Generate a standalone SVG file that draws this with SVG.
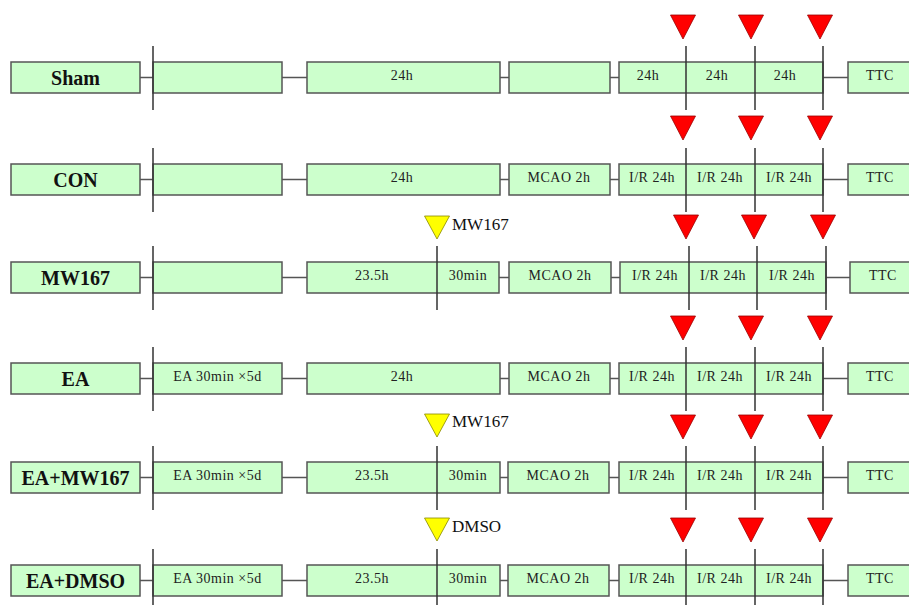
<svg xmlns="http://www.w3.org/2000/svg" width="909" height="605" viewBox="0 0 909 605">
<defs>
<style>
.bx{fill:#ccffcc;stroke:#555;stroke-width:1.5}
.ln{stroke:#333;stroke-width:1.5;fill:none}
.cn{stroke:#555;stroke-width:1.5;fill:none}
.lb{font-family:"Liberation Serif",serif;font-weight:bold;font-size:20px;fill:#111;text-anchor:middle}
.t{font-family:"Liberation Serif",serif;font-size:14px;fill:#222;text-anchor:middle;letter-spacing:0.5px}
.yt{font-family:"Liberation Serif",serif;font-size:17px;fill:#111}
.rd{fill:#ff0000;stroke:#990000;stroke-width:0.8}
.yw{fill:#ffff00;stroke:#888800;stroke-width:0.8}
</style>
<polygon id="rt" points="-12.5,0 12.5,0 0,24" class="rd"/>
<polygon id="yt" points="-12.5,0 12.5,0 0,23" class="yw"/>
</defs>
<rect width="909" height="605" fill="#ffffff"/>

<!-- Row 1: Sham -->
<g id="sham-label"><rect class="bx" x="11" y="62" width="129" height="31"/><text class="lb" x="75.5" y="85">Sham</text></g>
<g id="sham-b2"><rect class="bx" x="153" y="62" width="129" height="31"/></g>
<g id="sham-b3"><rect class="bx" x="307" y="62" width="193" height="31"/><text class="t" x="402" y="80">24h</text></g>
<g id="sham-b4"><rect class="bx" x="509" y="62" width="101" height="31"/></g>
<g id="sham-b5"><rect class="bx" x="619" y="62" width="204" height="31"/><text class="t" x="648" y="80">24h</text><text class="t" x="717" y="80">24h</text><text class="t" x="785" y="80">24h</text></g>
<g id="sham-ttc"><rect class="bx" x="848" y="62" width="70" height="31"/><text class="t" x="880" y="80">TTC</text></g>
<g id="sham-marks"><use href="#rt" x="683" y="15"/><use href="#rt" x="751" y="15"/><use href="#rt" x="820" y="15"/></g>

<!-- Row 2: CON -->
<g id="con-label"><rect class="bx" x="11" y="164" width="129" height="31"/><text class="lb" x="75.5" y="187">CON</text></g>
<g id="con-b2"><rect class="bx" x="153" y="164" width="129" height="31"/></g>
<g id="con-b3"><rect class="bx" x="307" y="164" width="193" height="31"/><text class="t" x="402" y="182">24h</text></g>
<g id="con-b4"><rect class="bx" x="509" y="164" width="101" height="31"/><text class="t" x="559" y="182">MCAO 2h</text></g>
<g id="con-b5"><rect class="bx" x="619" y="164" width="204" height="31"/><text class="t" x="652" y="182">I/R 24h</text><text class="t" x="720" y="182">I/R 24h</text><text class="t" x="789" y="182">I/R 24h</text></g>
<g id="con-ttc"><rect class="bx" x="848" y="164" width="70" height="31"/><text class="t" x="880" y="182">TTC</text></g>
<g id="con-marks"><use href="#rt" x="683" y="116"/><use href="#rt" x="751" y="116"/><use href="#rt" x="820" y="116"/></g>

<!-- Row 3: MW167 -->
<g id="mw-label"><rect class="bx" x="11" y="262" width="129" height="31"/><text class="lb" x="75.5" y="285">MW167</text></g>
<g id="mw-b2"><rect class="bx" x="153" y="262" width="129" height="31"/></g>
<g id="mw-b3"><rect class="bx" x="307" y="262" width="192" height="31"/><text class="t" x="372" y="280">23.5h</text><text class="t" x="468" y="280">30min</text></g>
<g id="mw-b4"><rect class="bx" x="509" y="262" width="102" height="31"/><text class="t" x="560" y="280">MCAO 2h</text></g>
<g id="mw-b5"><rect class="bx" x="620" y="262" width="206" height="31"/><text class="t" x="655" y="280">I/R 24h</text><text class="t" x="723" y="280">I/R 24h</text><text class="t" x="792" y="280">I/R 24h</text></g>
<g id="mw-ttc"><rect class="bx" x="850" y="262" width="70" height="31"/><text class="t" x="883" y="280">TTC</text></g>
<g id="mw-marks"><use href="#rt" x="686" y="215"/><use href="#rt" x="754" y="215"/><use href="#rt" x="823" y="215"/></g>
<g id="mw-inj"><use href="#yt" x="437" y="216"/><text class="yt" x="452" y="230">MW167</text></g>

<!-- Row 4: EA -->
<g id="ea-label"><rect class="bx" x="11" y="363" width="129" height="31"/><text class="lb" x="75.5" y="386">EA</text></g>
<g id="ea-b2"><rect class="bx" x="153" y="363" width="129" height="31"/><text class="t" x="217.5" y="381">EA 30min ×5d</text></g>
<g id="ea-b3"><rect class="bx" x="307" y="363" width="193" height="31"/><text class="t" x="402" y="381">24h</text></g>
<g id="ea-b4"><rect class="bx" x="509" y="363" width="101" height="31"/><text class="t" x="559" y="381">MCAO 2h</text></g>
<g id="ea-b5"><rect class="bx" x="619" y="363" width="204" height="31"/><text class="t" x="652" y="381">I/R 24h</text><text class="t" x="720" y="381">I/R 24h</text><text class="t" x="789" y="381">I/R 24h</text></g>
<g id="ea-ttc"><rect class="bx" x="848" y="363" width="70" height="31"/><text class="t" x="880" y="381">TTC</text></g>
<g id="ea-marks"><use href="#rt" x="683" y="316"/><use href="#rt" x="751" y="316"/><use href="#rt" x="820" y="316"/></g>

<!-- Row 5: EA+MW167 -->
<g id="eamw-label"><rect class="bx" x="11" y="462" width="129" height="31"/><text class="lb" x="75.5" y="485">EA+MW167</text></g>
<g id="eamw-b2"><rect class="bx" x="153" y="462" width="129" height="31"/><text class="t" x="217.5" y="480">EA 30min ×5d</text></g>
<g id="eamw-b3"><rect class="bx" x="307" y="462" width="193" height="31"/><text class="t" x="372" y="480">23.5h</text><text class="t" x="468" y="480">30min</text></g>
<g id="eamw-b4"><rect class="bx" x="508" y="462" width="101" height="31"/><text class="t" x="558" y="480">MCAO 2h</text></g>
<g id="eamw-b5"><rect class="bx" x="619" y="462" width="204" height="31"/><text class="t" x="652" y="480">I/R 24h</text><text class="t" x="720" y="480">I/R 24h</text><text class="t" x="789" y="480">I/R 24h</text></g>
<g id="eamw-ttc"><rect class="bx" x="848" y="462" width="70" height="31"/><text class="t" x="880" y="480">TTC</text></g>
<g id="eamw-marks"><use href="#rt" x="683" y="415"/><use href="#rt" x="751" y="415"/><use href="#rt" x="820" y="415"/></g>
<g id="eamw-inj"><use href="#yt" x="437" y="414"/><text class="yt" x="452" y="427">MW167</text></g>

<!-- Row 6: EA+DMSO -->
<g id="eadm-label"><rect class="bx" x="11" y="565" width="129" height="31"/><text class="lb" x="75.5" y="588">EA+DMSO</text></g>
<g id="eadm-b2"><rect class="bx" x="153" y="565" width="129" height="31"/><text class="t" x="217.5" y="583">EA 30min ×5d</text></g>
<g id="eadm-b3"><rect class="bx" x="307" y="565" width="193" height="31"/><text class="t" x="372" y="583">23.5h</text><text class="t" x="468" y="583">30min</text></g>
<g id="eadm-b4"><rect class="bx" x="508" y="565" width="101" height="31"/><text class="t" x="558" y="583">MCAO 2h</text></g>
<g id="eadm-b5"><rect class="bx" x="619" y="565" width="204" height="31"/><text class="t" x="652" y="583">I/R 24h</text><text class="t" x="720" y="583">I/R 24h</text><text class="t" x="789" y="583">I/R 24h</text></g>
<g id="eadm-ttc"><rect class="bx" x="848" y="565" width="70" height="31"/><text class="t" x="880" y="583">TTC</text></g>
<g id="eadm-marks"><use href="#rt" x="683" y="518"/><use href="#rt" x="751" y="518"/><use href="#rt" x="820" y="518"/></g>
<g id="eadm-inj"><use href="#yt" x="437" y="518"/><text class="yt" x="452" y="532">DMSO</text></g>

<g id="connectors">
<!-- row 1 -->
<path class="cn" d="M140,77.5H153M282,77.5H307M500,77.5H509M610,77.5H619M823,77.5H848"/>
<path class="ln" d="M153,46V110M686,46V110M755,46V110M823,46V110"/>
<!-- row 2 -->
<path class="cn" d="M140,179.5H153M282,179.5H307M500,179.5H509M610,179.5H619M823,179.5H848"/>
<path class="ln" d="M153,148V212M686,148V212M755,148V212M823,148V212"/>
<!-- row 3 -->
<path class="cn" d="M140,277.5H153M282,277.5H307M499,277.5H509M611,277.5H620M826,277.5H850"/>
<path class="ln" d="M153,246V310M437,246V310M689,246V310M757,246V310M826,246V310"/>
<!-- row 4 -->
<path class="cn" d="M140,378.5H153M282,378.5H307M500,378.5H509M610,378.5H619M823,378.5H848"/>
<path class="ln" d="M153,347V411M686,347V411M755,347V411M823,347V411"/>
<!-- row 5 -->
<path class="cn" d="M140,477.5H153M282,477.5H307M500,477.5H508M609,477.5H619M823,477.5H848"/>
<path class="ln" d="M153,446V510M437,446V510M686,446V510M755,446V510M823,446V510"/>
<!-- row 6 -->
<path class="cn" d="M140,580.5H153M282,580.5H307M500,580.5H508M609,580.5H619M823,580.5H848"/>
<path class="ln" d="M153,549V605M437,549V605M686,549V605M755,549V605M823,549V605"/>
</g>
</svg>
